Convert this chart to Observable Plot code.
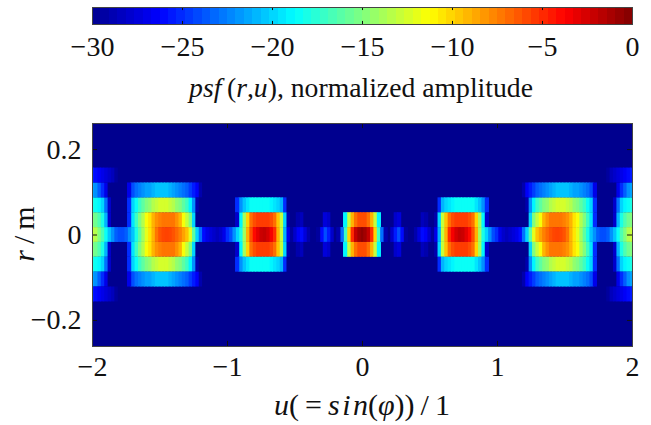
<!DOCTYPE html>
<html>
<head>
<meta charset="utf-8">
<script src="https://cdn.jsdelivr.net/npm/d3@7"></script>
<script src="https://cdn.jsdelivr.net/npm/@observablehq/plot@0.6"></script>
<style>
html,body{margin:0;padding:0;background:#fff;width:651px;height:425px;overflow:hidden;}
#page{position:relative;width:651px;height:425px;font-family:"Liberation Serif",serif;color:#000;}
#page svg{position:absolute;left:0;display:block;}
.lbl{position:absolute;white-space:nowrap;font-size:27.7px;line-height:34px;color:#111;}
.lbl i{font-style:italic;}
.big{font-size:30px;}
.tall{font-size:36px;font-weight:300;line-height:30px;}
</style>
</head>
<body>
<div id="page"></div>
<script>
const barTicks = [-30,-25,-20,-15,-10,-5,0];
const uTicks = [-2,-1,0,1,2];
const rTicks = [-0.2,0,0.2];
const jetDomain = [-30,-26.25,-18.75,-11.25,-3.75,0];
const jetRange = ["#00008f","#0000ff","#00ffff","#ffff00","#ff0000","#800000"];
const uStep = 0.025;
const rStep = 0.0348;
// Amplitude in dB read along u = 0, 0.025, ... 2 (pattern mirrors around u = 0 and r = 0)
const row0 = [-0.5,-1,-2,-5,-10,-17,-23,-29,-30,-28,-25.5,-24,-26,-29.5,-30,-30,-29,-27.5,-26,-26.5,-28,-29.5,-27,-21,-13,-9,-5,-3.5,-2.5,-2,-2.2,-3,-4,-6,-9,-14,-18,-20,-22,-24,-25,-27,-28,-28.5,-28,-27.5,-27,-26,-23,-20,-16,-12,-9.5,-8.5,-7.5,-6.8,-6.2,-5.8,-5.7,-5.8,-6.2,-7.2,-9,-10.5,-12,-14,-16,-18,-20.5,-22,-23.5,-24,-24,-23.5,-22,-20.5,-18.5,-16.5,-15,-13.5,-13];
const row1 = [-6,-6,-7,-9,-13,-19,-30,-30,-30,-30,-28,-27.5,-30,-30,-30,-30,-30,-30,-28.5,-29,-30,-30,-29,-20,-13,-9.5,-7,-6,-5.5,-5.5,-5.5,-5.5,-6,-7,-10,-14,-19,-28,-30,-30,-30,-30,-30,-30,-30,-30,-30,-30,-30,-30,-20,-15,-13,-11.5,-9,-8,-7.2,-7.2,-7.2,-7.2,-7.5,-8,-9,-10.5,-11.5,-13.5,-15,-17,-19.5,-25,-30,-30,-30,-30,-30,-28,-21,-18,-16.5,-15.5,-15];
const row2 = [-30,-30,-30,-30,-30,-30,-30,-30,-30,-30,-30,-30,-30,-30,-30,-30,-30,-30,-30,-30,-30,-30,-30,-25,-21,-20,-19.5,-19,-18.5,-18.5,-18.5,-18.5,-18.5,-18.5,-19.5,-20.5,-22,-25,-30,-30,-30,-30,-30,-30,-30,-30,-30,-30,-30,-29,-22,-19,-17,-16,-15,-14.5,-13.5,-13,-12.5,-12.5,-12.5,-13,-13.5,-14.5,-15,-16,-17,-18.5,-20,-25,-30,-30,-30,-30,-30,-28,-23,-20,-19,-18.5,-18];
const row3 = [-30,-30,-30,-30,-30,-30,-30,-30,-30,-30,-30,-30,-30,-30,-30,-30,-30,-30,-30,-30,-30,-30,-30,-30,-30,-30,-30,-30,-30,-30,-30,-30,-30,-30,-30,-30,-30,-30,-30,-30,-30,-30,-30,-30,-30,-30,-30,-30,-29,-26.5,-25.5,-24.5,-23.5,-23,-22.5,-22,-21.5,-21,-20.5,-20.5,-20.5,-20.5,-21,-21.5,-21.5,-22,-22.5,-23,-24,-27,-30,-30,-30,-30,-30,-30,-27,-25,-23.5,-22,-21.5];
const row4 = [-30,-30,-30,-30,-30,-30,-30,-30,-30,-30,-30,-30,-30,-30,-30,-30,-30,-30,-30,-30,-30,-30,-30,-30,-30,-30,-30,-30,-30,-30,-30,-30,-30,-30,-30,-30,-30,-30,-30,-30,-30,-30,-30,-30,-30,-30,-30,-30,-30,-30,-30,-30,-30,-30,-30,-30,-30,-30,-30,-30,-30,-30,-30,-30,-30,-30,-30,-30,-30,-30,-30,-30,-30,-29.5,-28.5,-28,-27.5,-27,-26.5,-26,-25.5];
const rowsByDistance = [row0,row1,row2,row3,row4];
const uDomain = [-2,2];
const rDomain = [-0.261,0.261];
const barLevels = d3.range(64);

const fmt = d => String(d).replace("-","\u2212");
const colorOpt = {type:"linear",domain:jetDomain,range:jetRange,interpolate:"rgb",clamp:true};

const cells = [];
rowsByDistance.forEach((vals,i)=>{
  for (const si of i===0?[1]:[1,-1]) {
    vals.forEach((v,k)=>{
      for (const sk of k===0?[1]:[1,-1]) {
        const u = sk*k*uStep, r = si*i*rStep;
        if (v > -30) cells.push({u1:u-uStep/2-0.003,u2:u+uStep/2+0.003,r1:r-rStep/2,r2:r+rStep/2,v});
      }
    });
  }
});

const page = document.getElementById("page");

// colour bar
const bar = Plot.plot({
  width:651,height:64,marginLeft:92,marginRight:19,marginTop:7,marginBottom:40,
  style:{background:"transparent",fontFamily:"Liberation Serif",fontSize:"28px",color:"#111",overflow:"visible"},
  x:{domain:[-30,0],label:null},
  y:{domain:[0,1],axis:null},
  color:colorOpt,
  marks:[
    Plot.rect(barLevels,{x1:d=>-30+d*30/64,x2:d=>-30+(d+1)*30/64+0.05,y1:0,y2:1,fill:d=>-30+(d+0.5)*30/64,shapeRendering:"crispEdges",clip:true}),
    Plot.ruleX(barTicks,{x:d=>d,y1:1,y2:0.82,stroke:"#111",strokeWidth:1}),
    Plot.ruleX(barTicks,{x:d=>d,y1:0,y2:0.18,stroke:"#111",strokeWidth:1}),
    Plot.frame({stroke:"#444",strokeWidth:1}),
    Plot.axisX(barTicks,{anchor:"bottom",tickSize:0,tickPadding:12,tickFormat:fmt,label:null,fontSize:28,fill:"#111"})
  ]
});
bar.style.top="0px";
page.appendChild(bar);

// main image
const main = Plot.plot({
  width:651,height:425-108,marginLeft:92,marginRight:19,marginTop:15,marginBottom:79,
  style:{background:"transparent",fontFamily:"Liberation Serif",fontSize:"28px",color:"#111",overflow:"visible"},
  x:{domain:uDomain,label:null},
  y:{domain:rDomain,label:null},
  color:colorOpt,
  marks:[
    Plot.rect([{v:-30}],{x1:uDomain[0],x2:uDomain[1],y1:rDomain[0],y2:rDomain[1],fill:d=>d.v}),
    Plot.rect(cells,{x1:"u1",x2:"u2",y1:"r1",y2:"r2",fill:"v",clip:true}),
    Plot.ruleX(uTicks,{x:d=>d,y1:rDomain[1],y2:0.249,stroke:"#111"}),
    Plot.ruleX(uTicks,{x:d=>d,y1:rDomain[0],y2:-0.249,stroke:"#111"}),
    Plot.ruleY(rTicks,{y:d=>d,x1:-2,x2:-1.963,stroke:"#111"}),
    Plot.ruleY(rTicks,{y:d=>d,x1:2,x2:1.963,stroke:"#111"}),
    Plot.frame({stroke:"#444",strokeWidth:1}),
    Plot.axisX(uTicks,{anchor:"bottom",tickSize:0,tickPadding:10,tickFormat:fmt,label:null,fontSize:28,fill:"#111"}),
    Plot.axisY(rTicks,{anchor:"left",tickSize:0,tickPadding:11,tickFormat:d=>d===0?"0":fmt(d),label:null,fontSize:28,fill:"#111"})
  ]
});
main.style.top="108px";
page.appendChild(main);

// labels with mixed italics
function label(html,cx,cy,rot,cls){
  const d=document.createElement("div");
  d.className="lbl"+(cls?" "+cls:""); d.innerHTML=html;
  d.style.left=cx+"px"; d.style.top=cy+"px";
  d.style.transform="translate(-50%,-50%)"+(rot?" rotate(-90deg)":"");
  page.appendChild(d);
}
label("<i>psf</i>&#8201;(<i>r</i>,<i>u</i>), normalized amplitude",361,88);
label("<i>u</i>(&#8201;=&#8201;<i>s&#8202;i&#8202;n</i>(<i>φ</i>))&#8201;/&#8201;1",362,405,false,"big");
label("<i>r</i>&#8201;/&#8201;m",24,234,true,"big");
</script>
</body>
</html>
